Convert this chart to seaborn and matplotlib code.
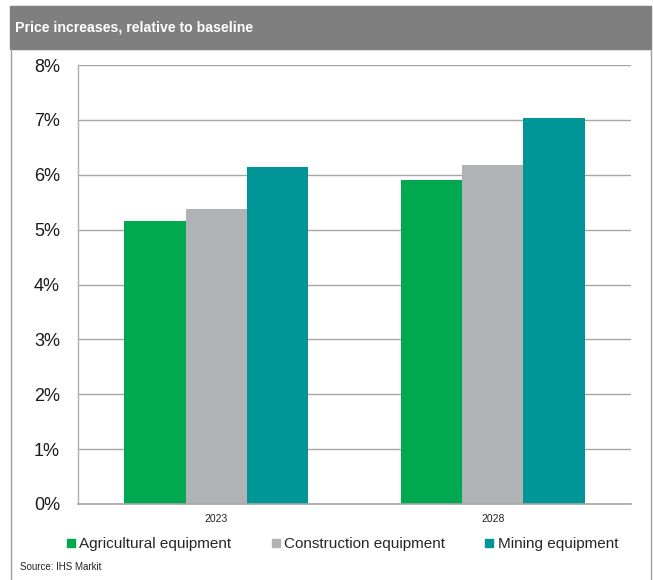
import matplotlib
matplotlib.use("Agg")
import matplotlib.pyplot as plt
from matplotlib.patches import Rectangle
from matplotlib.lines import Line2D
import seaborn as sns
import pandas as pd

years = ["2023", "2028"]
series = ["Agricultural equipment", "Construction equipment", "Mining equipment"]
agricultural = [5.15, 5.90]
construction = [5.37, 6.18]
mining = [6.14, 7.04]
colors = ["#00a84f", "#b1b2b5", "#009697"]
yticks = [0, 1, 2, 3, 4, 5, 6, 7, 8]

rows = []
for s, vals in zip(series, [agricultural, construction, mining]):
    for y, v in zip(years, vals):
        rows.append({"year": y, "series": s, "value": v})
df = pd.DataFrame(rows)

sns.set_style("white")
plt.rcParams["font.family"] = ["Liberation Sans", "DejaVu Sans"]

W, H = 653, 580
fig = plt.figure(figsize=(W / 100, H / 100), dpi=100)
ax = fig.add_axes([78 / W, 1 - 504 / H, (631 - 78) / W, (504 - 65) / H])

sns.barplot(data=df, x="year", y="value", hue="series", hue_order=series,
            palette=colors, width=0.665, gap=0, saturation=1, ax=ax,
            legend=False, errorbar=None, linewidth=0, zorder=3)

ax.set_ylim(0, 8)
ax.set_xlim(-0.5, 1.5)
ax.set_yticks(yticks)
ax.set_yticklabels([f"{t}%" for t in yticks], fontsize=13)
ax.yaxis.grid(True, color="#a6a6a6", linewidth=1.0, zorder=0)
ax.set_axisbelow(True)
ax.set_xlabel("")
ax.set_ylabel("")
for s in ["top", "right"]:
    ax.spines[s].set_visible(False)
ax.spines["left"].set_color("#b0b0b0")
ax.spines["bottom"].set_color("#a6a6a6")
ax.spines["left"].set_linewidth(1.0)
ax.spines["bottom"].set_linewidth(1.2)
ax.spines["bottom"].set_zorder(4)
ax.tick_params(axis="y", length=5, color="#a6a6a6", width=1, pad=8, labelcolor="#1a1a1a")
ax.tick_params(axis="x", which="major", length=0, labelsize=7.5, pad=7, labelcolor="#222222")
ax.set_xticks([-0.5, 0.5, 1.5], minor=True)
ax.tick_params(axis="x", which="minor", length=4, color="#a6a6a6", width=1)

# header band
fig.patches.append(Rectangle((10 / W, 1 - 49 / H), 641 / W, 43 / H,
                             transform=fig.transFigure, color="#7f7f7f", zorder=0))
fig.text(15 / W, 1 - 28 / H, "Price increases, relative to baseline", color="white",
         fontsize=10.2, fontweight="bold", va="center", ha="left",
         family=["Liberation Sans Narrow", "Liberation Sans", "DejaVu Sans"])

# frame lines
fig.add_artist(Line2D([11 / W, 11 / W], [0, 1 - 49 / H], transform=fig.transFigure,
                      color="#a0a0a0", linewidth=1))
fig.add_artist(Line2D([651 / W, 651 / W], [0, 1 - 49 / H], transform=fig.transFigure,
                      color="#a0a0a0", linewidth=1))

# legend
handles = [Line2D([], [], marker="s", linestyle="none", markersize=6,
                  markerfacecolor=c, markeredgecolor=c) for c in colors]
fig.legend(handles, series, loc="center", bbox_to_anchor=(0.5 + 16 / W, 1 - 544 / H),
           ncol=3, frameon=False, fontsize=11, handlelength=0.55, handletextpad=0.3,
           columnspacing=2.6)

fig.text(20 / W, 1 - 567 / H, "Source: IHS Markit", fontsize=7, va="center", ha="left",
         color="#222222", family=["Liberation Sans Narrow", "Liberation Sans", "DejaVu Sans"])

fig.savefig("out.png", dpi=100, facecolor="white")
